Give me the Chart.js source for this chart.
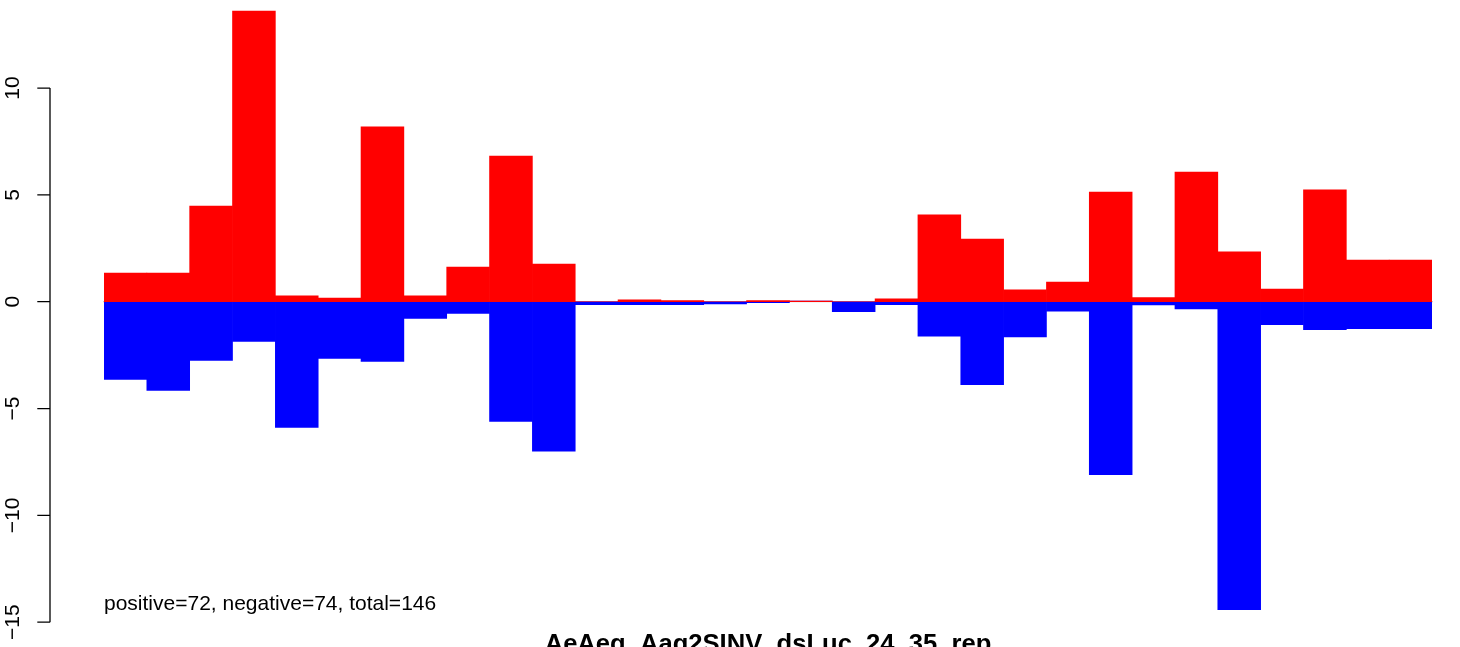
<!DOCTYPE html>
<html>
<head>
<meta charset="utf-8">
<script src="https://cdn.jsdelivr.net/npm/chart.js@4"></script>
<style>
  html, body { margin: 0; padding: 0; background: #fff; }
  #wrap { width: 1460px; height: 647px; }
</style>
</head>
<body>
<div id="wrap"><canvas id="bars" width="1460" height="647"></canvas></div>
<script>
  // --- data ---
  const bins = ['1','2','3','4','5','6','7','8','9','10','11','12','13','14','15','16',
                '17','18','19','20','21','22','23','24','25','26','27','28','29','30','31'];
  const positive = [1.34, 1.34, 4.48, 13.60, 0.27, 0.17, 8.18, 0.27, 1.62, 6.82, 1.76,
                    0, 0.09, 0.05, 0, 0.05, 0.03, 0, 0.14,
                    4.06, 2.93, 0.55, 0.92, 5.13, 0.19, 6.07, 2.33, 0.59, 5.23, 1.95, 1.95];
  const negative = [-3.64, -4.15, -2.75, -1.86, -5.88, -2.65, -2.79, -0.78, -0.55, -5.60, -7.00,
                    -0.14, -0.14, -0.14, -0.10, -0.05, 0, -0.47, -0.14,
                    -1.61, -3.88, -1.65, -0.44, -8.10, -0.15, -0.34, -14.41, -1.08, -1.31, -1.26, -1.26];
  const yTicks = [-15, -10, -5, 0, 5, 10];
  const countsNote = 'positive=72, negative=74, total=146';
  const plotTitle = 'AeAeg_Aag2SINV_dsLuc_24_35_rep';

  const FONT = '"Liberation Sans", Arial, sans-serif';

  // zero line behind the bars
  const zeroLine = {
    id: 'zeroLine',
    beforeDatasetsDraw(chart) {
      const { ctx, chartArea, scales } = chart;
      const y0 = scales.y.getPixelForValue(0);
      ctx.save();
      ctx.strokeStyle = '#bebebe';
      ctx.lineWidth = 1;
      ctx.beginPath();
      ctx.moveTo(chartArea.left - 1, y0);
      ctx.lineTo(chartArea.right + 1, y0);
      ctx.stroke();
      ctx.restore();
    }
  };

  // R style left axis + text
  const baseAxis = {
    id: 'baseAxis',
    afterDraw(chart) {
      const { ctx, chartArea, scales } = chart;
      const y = scales.y;
      const axisX = chartArea.left - 54;
      const top = y.getPixelForValue(yTicks[yTicks.length - 1]);
      const bottom = y.getPixelForValue(yTicks[0]);

      ctx.save();
      ctx.strokeStyle = '#000';
      ctx.lineWidth = 1.3;
      ctx.beginPath();
      ctx.moveTo(axisX, top);
      ctx.lineTo(axisX, bottom);
      yTicks.forEach(v => {
        const py = y.getPixelForValue(v);
        ctx.moveTo(axisX, py);
        ctx.lineTo(axisX - 12.7, py);
      });
      ctx.stroke();

      ctx.fillStyle = '#000';
      ctx.font = '21px ' + FONT;
      ctx.textAlign = 'center';
      ctx.textBaseline = 'middle';
      yTicks.forEach(v => {
        const py = y.getPixelForValue(v);
        ctx.save();
        ctx.translate(13, py);
        ctx.rotate(-Math.PI / 2);
        ctx.fillText(String(v).replace('-', '\u2212'), 0, 0);
        ctx.restore();
      });

      ctx.textAlign = 'left';
      ctx.textBaseline = 'alphabetic';
      ctx.fillText(countsNote, chartArea.left, 610);

      ctx.font = 'bold 25.6px ' + FONT;
      ctx.textAlign = 'center';
      ctx.fillText(plotTitle, 768, 651.5);
      ctx.restore();
    }
  };

  new Chart(document.getElementById('bars'), {
    type: 'bar',
    data: {
      labels: bins,
      datasets: [
        { label: 'positive', data: positive, backgroundColor: '#ff0000', borderWidth: 0 },
        { label: 'negative', data: negative, backgroundColor: '#0000ff', borderWidth: 0 }
      ]
    },
    options: {
      responsive: false,
      animation: false,
      devicePixelRatio: 1,
      layout: { padding: { left: 104, right: 28, top: 0, bottom: 0 } },
      datasets: { bar: { barPercentage: 1, categoryPercentage: 1 } },
      plugins: { legend: { display: false }, tooltip: { enabled: false } },
      scales: {
        x: { stacked: true, display: false, offset: true },
        y: { stacked: true, display: false, min: -16.16, max: 14.12 }
      }
    },
    plugins: [zeroLine, baseAxis]
  });
</script>
</body>
</html>
